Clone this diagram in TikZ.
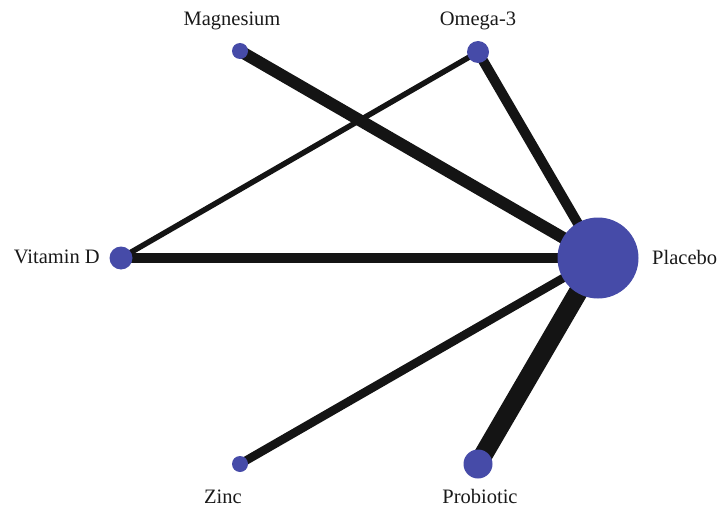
\documentclass[tikz,border=0pt]{standalone}
\usepackage{fontspec}
\setmainfont{Liberation Serif}
\usetikzlibrary{backgrounds}
\definecolor{nodeblue}{HTML}{464BA8}
\definecolor{edgeblack}{HTML}{141414}
\begin{document}
\begin{tikzpicture}[x=1pt,y=-1pt,
  trt/.style={circle,fill=nodeblue,inner sep=0pt,minimum size=#1},
  lbl/.style={font=\fontsize{20.5}{24}\selectfont,text=black!90,inner sep=0pt},
  edge/.style={draw=edgeblack,line width=#1}]
\useasboundingbox (0,0) rectangle (717,508);
\node[trt=16pt] (mg) at (240,51) {};
\node[trt=22pt] (om) at (478,52) {};
\node[trt=23pt] (vd) at (121,258) {};
\node[trt=81pt] (pl) at (598,258) {};
\node[trt=16pt] (zn) at (240,464) {};
\node[trt=29pt] (pr) at (478,464) {};
\node[lbl] (lmg) at (232,21) {Magnesium};
\node[lbl] (lom) at (478,21) {Omega-3};
\node[lbl,anchor=east] (lvd) at (100,257) {Vitamin D};
\node[lbl,anchor=west] (lpl) at (652,257) {Placebo};
\node[lbl,anchor=base] (lzn) at (223,503) {Zinc};
\node[lbl,anchor=base] (lpr) at (480,503) {Probiotic};
\begin{scope}[on background layer]
\draw[edge=12pt] (mg.center) -- (pl.center);
\draw[edge=10pt] (om.center) -- (pl.center);
\draw[edge=5.5pt] (om.center) -- (vd.center);
\draw[edge=10pt] (vd.center) -- (pl.center);
\draw[edge=8.5pt] (zn.center) -- (pl.center);
\draw[edge=19pt] (pr.center) -- (pl.center);
\end{scope}
\end{tikzpicture}
\end{document}
